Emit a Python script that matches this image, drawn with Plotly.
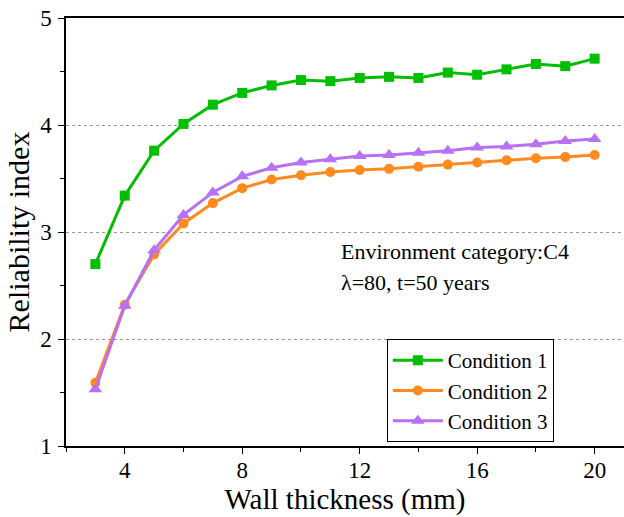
import plotly.graph_objects as go

thickness = list(range(3, 21))
cond1 = [2.70, 3.34, 3.76, 4.01, 4.19, 4.30, 4.37, 4.42, 4.41, 4.44, 4.45, 4.44, 4.49, 4.47, 4.52, 4.57, 4.55, 4.62]
cond2 = [1.59, 2.32, 2.79, 3.08, 3.27, 3.41, 3.49, 3.53, 3.56, 3.58, 3.59, 3.61, 3.63, 3.65, 3.67, 3.69, 3.70, 3.72]
cond3 = [1.53, 2.31, 2.83, 3.16, 3.37, 3.52, 3.60, 3.65, 3.68, 3.71, 3.72, 3.74, 3.76, 3.79, 3.80, 3.82, 3.85, 3.87]
names = ["Condition 1", "Condition 2", "Condition 3"]
colors = ["#00BE00", "#FF8A1E", "#B870F5"]
symbols = ["square", "circle", "triangle-up"]
sizes = [10, 10, 12]

FONT = "Liberation Serif"

fig = go.Figure()
for name, vals, c, s, sz in zip(names, [cond1, cond2, cond3], colors, symbols, sizes):
    fig.add_trace(go.Scatter(
        x=thickness, y=vals, name=name, mode="lines+markers",
        line=dict(color=c, width=3),
        marker=dict(symbol=s, size=sz, color=c),
    ))

fig.update_layout(
    width=624, height=517,
    margin=dict(l=66, r=0, t=18, b=71, autoexpand=False),
    paper_bgcolor="white", plot_bgcolor="white",
    font=dict(family=FONT, size=20, color="black"),
    showlegend=True,
    legend=dict(
        x=0.575, y=0.25, xanchor="left", yanchor="top",
        bordercolor="black", borderwidth=1, bgcolor="white",
        font=dict(family=FONT, size=21), tracegroupgap=0,
        itemwidth=50,
    ),
)
fig.update_xaxes(
    range=[2, 21], tick0=0, dtick=4, automargin=False,
    showline=True, linecolor="black", linewidth=1.5, mirror=True,
    ticks="outside", ticklen=6, tickwidth=1.2, tickcolor="black",
    minor=dict(dtick=2, ticks="outside", ticklen=4, tickwidth=1.2, tickcolor="black", showgrid=False),
    showgrid=False, zeroline=False,
    tickfont=dict(family=FONT, size=23), ticklabelstandoff=-3,
    title=dict(text="Wall thickness (mm)", font=dict(family=FONT, size=29), standoff=0),
)
fig.update_yaxes(
    range=[1, 5], tick0=0, dtick=1, automargin=False,
    showline=True, linecolor="black", linewidth=1.5,
    ticks="outside", ticklen=6, tickwidth=1.2, tickcolor="black",
    minor=dict(dtick=0.5, ticks="outside", ticklen=4, tickwidth=1.2, tickcolor="black", showgrid=False),
    showgrid=True, gridcolor="#999999", griddash="dot", gridwidth=1,
    zeroline=False,
    tickfont=dict(family=FONT, size=23), ticklabelstandoff=2,
    title=dict(text="Reliability index", font=dict(family=FONT, size=30), standoff=2),
)

fig.add_annotation(xref="paper", yref="y", x=0.49, y=2.82, xanchor="left", yanchor="middle",
                   text="Environment category:C4", showarrow=False,
                   font=dict(family=FONT, size=22, color="black"))
fig.add_annotation(xref="paper", yref="y", x=0.49, y=2.53, xanchor="left", yanchor="middle",
                   text="λ=80, t=50 years", showarrow=False,
                   font=dict(family=FONT, size=22, color="black"))

fig.write_html("out.html", config={"displayModeBar": False},
               post_script="document.body.style.margin='0px';document.body.style.overflow='hidden';")
